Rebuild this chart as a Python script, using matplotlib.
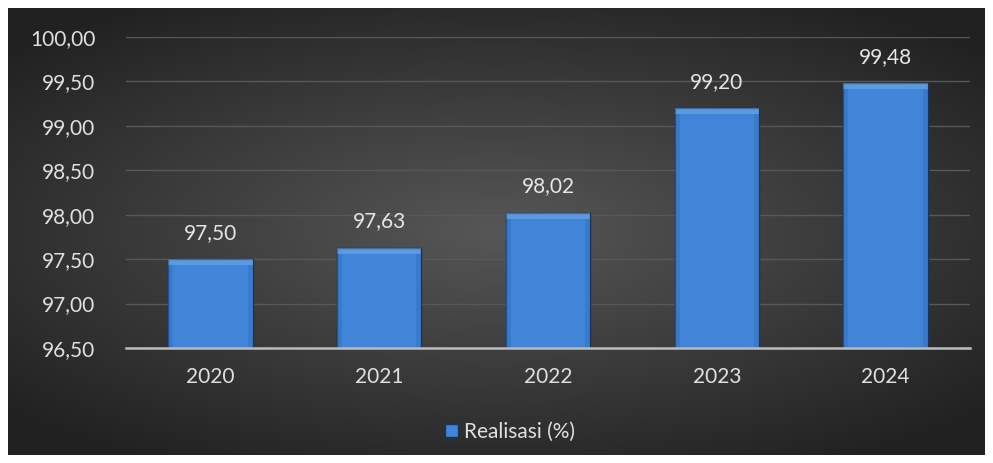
import numpy as np
import matplotlib
matplotlib.use('Agg')
import matplotlib.pyplot as plt
from matplotlib.patches import Rectangle

# Data
years = ['2020', '2021', '2022', '2023', '2024']
realisasi = [97.50, 97.63, 98.02, 99.20, 99.48]
yticks = [96.5, 97.0, 97.5, 98.0, 98.5, 99.0, 99.5, 100.0]

plt.rcParams['font.family'] = ['Lato', 'DejaVu Sans']
fs = 15

W, H = 993, 463
fig = plt.figure(figsize=(W / 100, H / 100), dpi=100, facecolor='white')

# dark radial gradient background inside white border
bg = fig.add_axes([8 / W, 8 / H, 977 / W, 447 / H])
yy, xx = np.mgrid[-1:1:300j, -1:1:600j]
r = np.sqrt((xx / 1.0) ** 2 + (yy / 0.9) ** 2)
r = np.clip(r / 1.35, 0, 1)
c0 = np.array([0.34, 0.34, 0.34])
c1 = np.array([0.13, 0.13, 0.13])
img = c0[None, None, :] * (1 - r[..., None]) + c1[None, None, :] * r[..., None]
bg.imshow(img, aspect='auto', extent=[0, 1, 0, 1])
bg.axis('off')

ax = fig.add_axes([126 / W, 115 / H, 844 / W, 311 / H])
ax.set_facecolor('none')
x = np.arange(len(years))
bars = ax.bar(x, [v - 96.5 for v in realisasi], bottom=96.5, width=0.5,
              color='#4085d8', edgecolor='#17345c', linewidth=1.0, zorder=3)

# soft bevel: lighter top band and slightly darker sides
for b in bars:
    bx, bw = b.get_x(), b.get_width()
    top = b.get_y() + b.get_height()
    ax.add_patch(Rectangle((bx, top - 0.07), bw, 0.07, facecolor='#7db3ee',
                           edgecolor='none', alpha=0.45, zorder=4))
    ax.add_patch(Rectangle((bx, 96.5), bw * 0.06, b.get_height() - 0.07,
                           facecolor='#3470c0', edgecolor='none', alpha=0.5, zorder=4))
    ax.add_patch(Rectangle((bx + bw * 0.94, 96.5), bw * 0.06, b.get_height() - 0.07,
                           facecolor='#3470c0', edgecolor='none', alpha=0.5, zorder=4))

for xi, v in zip(x, realisasi):
    ax.annotate(('%.2f' % v).replace('.', ','), (xi, v), xytext=(0, 19),
                textcoords='offset points', ha='center', va='center',
                color='#e6e6e6', fontsize=fs, zorder=5)

ax.set_ylim(96.5, 100.0)
ax.set_xlim(-0.5, len(years) - 0.5)
ax.set_yticks(yticks)
ax.set_yticklabels([('%.2f' % t).replace('.', ',') for t in yticks])
ax.set_xticks(x)
ax.set_xticklabels(years)
ax.tick_params(axis='y', length=0, pad=22, labelsize=fs, labelcolor='#e0e0e0')
ax.tick_params(axis='x', length=0, pad=14, labelsize=fs, labelcolor='#e0e0e0')
ax.grid(axis='y', color='#585858', linewidth=1.0, zorder=0)
for s in ['top', 'right', 'left']:
    ax.spines[s].set_visible(False)
ax.spines['bottom'].set_color('#bcbcbc')
ax.spines['bottom'].set_linewidth(1.8)
ax.spines['bottom'].set_zorder(6)

leg = fig.legend([bars[0]], ['Realisasi (%)'], loc='center',
                 bbox_to_anchor=(510 / W, 1 - 432 / H), frameon=False,
                 fontsize=fs, handlelength=0.6, handleheight=0.6,
                 handletextpad=0.3, labelcolor='#e0e0e0')

fig.savefig('out.png', dpi=100, facecolor='white')
